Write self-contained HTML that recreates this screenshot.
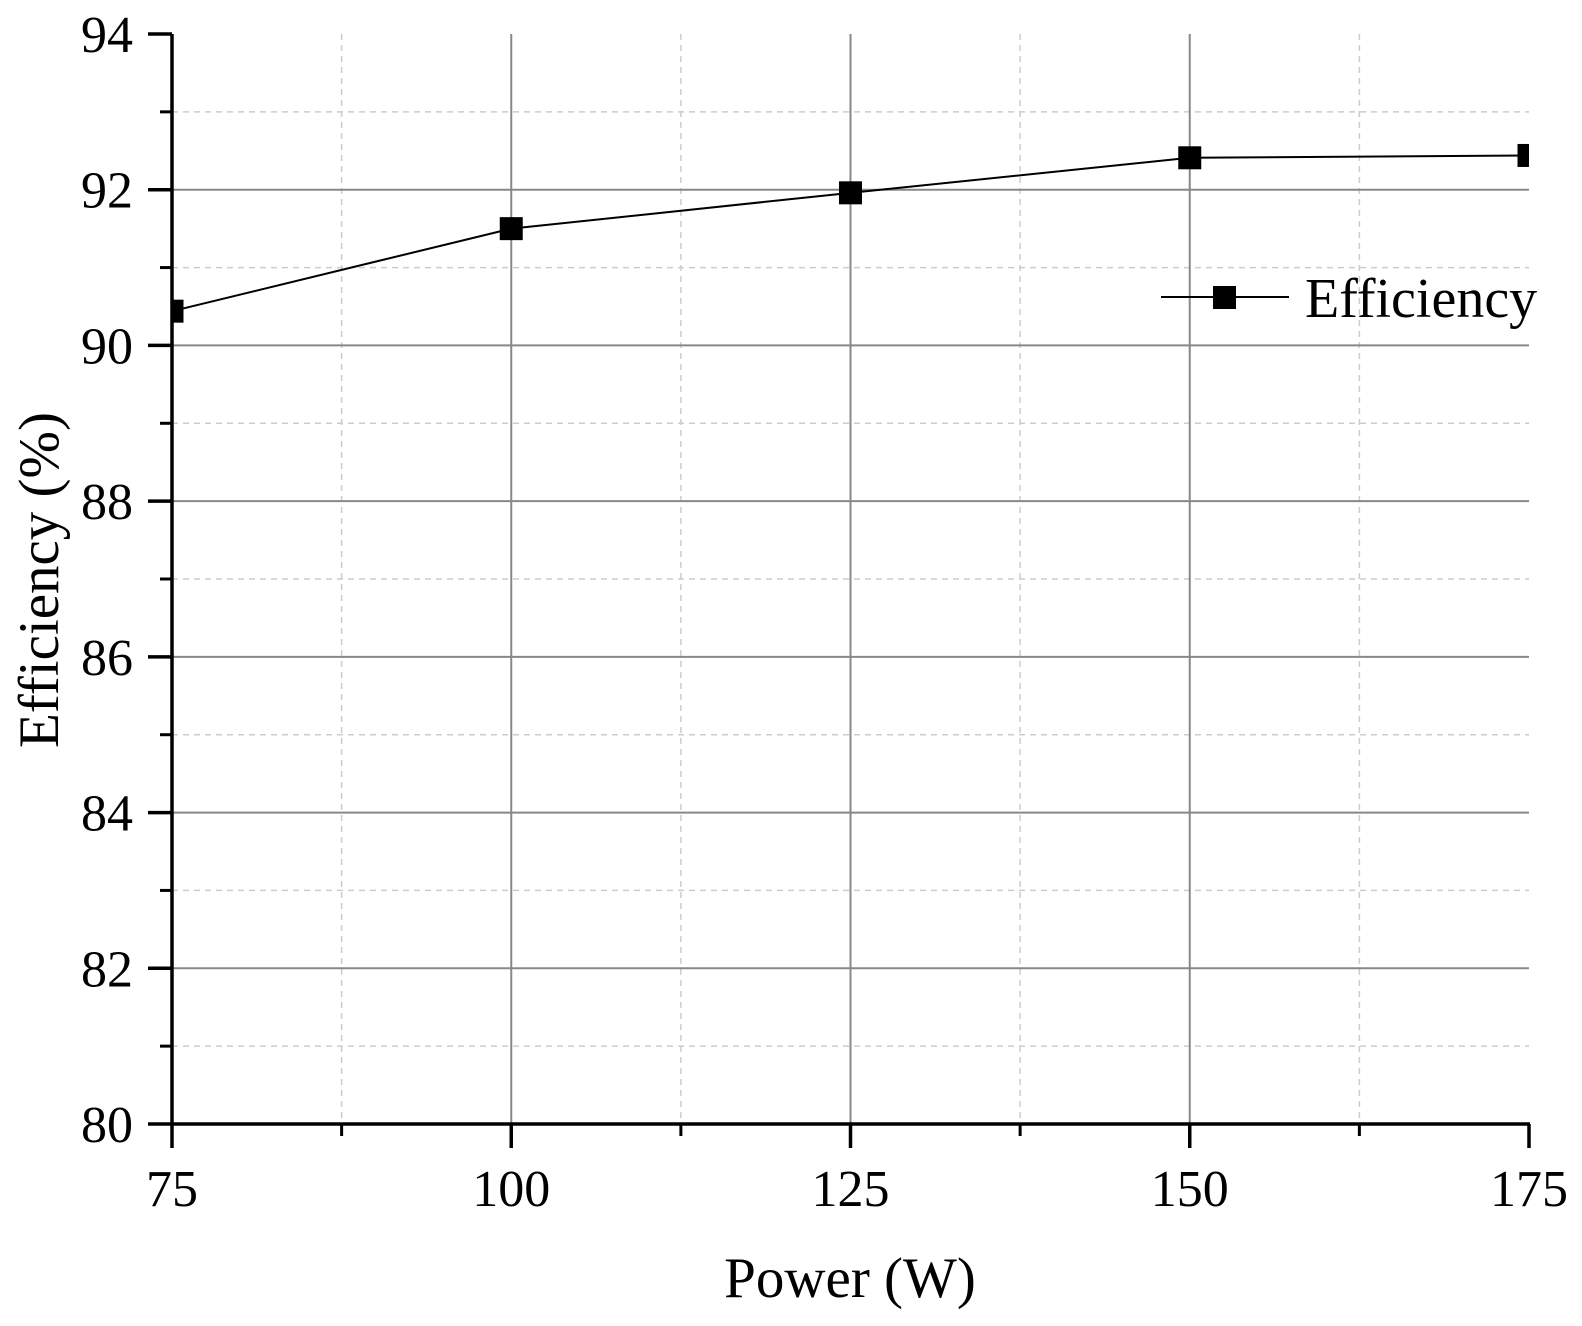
<!DOCTYPE html>
<html><head><meta charset="utf-8"><style>
html,body{margin:0;padding:0;background:#fff;}
svg text{font-family:"Liberation Serif",serif;fill:#000;}
</style></head><body>
<svg id="chart" width="1582" height="1321" xmlns="http://www.w3.org/2000/svg">
<g id="grid"></g>
<g id="series"></g>
<g id="axes"></g>
<text x="850" y="1297" font-size="57" text-anchor="middle">Power (W)</text>
<text transform="translate(58,580) rotate(-90)" font-size="57" text-anchor="middle">Efficiency (%)</text>
<g>
<line x1="1161" y1="297" x2="1289" y2="297" stroke="#000" stroke-width="2"/>
<rect x="1213" y="286" width="23" height="23" fill="#000"/>
<text x="1305" y="317" font-size="56">Efficiency</text>
</g>
</svg>
<script>
const xValues=[75,100,125,150,175];
const efficiency=[90.44,91.50,91.96,92.41,92.44];
const xTicks=[75,100,125,150,175];
const yTicks=[80,82,84,86,88,90,92,94];
const X0=172,X1=1529,Y0=1124,Y1=34;
const xs=v=>X0+(v-75)/(175-75)*(X1-X0);
const ys=v=>Y0-(v-80)/(94-80)*(Y0-Y1);
const NS="http://www.w3.org/2000/svg";
function mk(tag,attrs,parent){const e=document.createElementNS(NS,tag);for(const k in attrs)e.setAttribute(k,attrs[k]);parent.appendChild(e);return e;}
const grid=document.getElementById('grid'),axes=document.getElementById('axes'),ser=document.getElementById('series');
for(let i=0;i<xTicks.length-1;i++){const m=(xTicks[i]+xTicks[i+1])/2;
 const l=mk('line',{x1:xs(m),y1:Y1,x2:xs(m),y2:Y0,stroke:'#ccc','stroke-width':1.5,'stroke-dasharray':'6,5'},grid);
 
 
 const t=mk('line',{x1:xs(m),y1:Y0,x2:xs(m),y2:Y0+12,stroke:'#000','stroke-width':3},axes);
 
 }
for(let i=0;i<yTicks.length-1;i++){const m=(yTicks[i]+yTicks[i+1])/2;
 const l=mk('line',{x1:X0,y1:ys(m),x2:X1,y2:ys(m),stroke:'#ccc','stroke-width':1.5,'stroke-dasharray':'6,5'},grid);
 
 
 const t=mk('line',{x1:X0-12,y1:ys(m),x2:X0,y2:ys(m),stroke:'#000','stroke-width':3},axes);
 
 }
xTicks.forEach((v,i)=>{
 if(i>0&&i<xTicks.length-1){const l=mk('line',{x1:xs(v),y1:Y1,x2:xs(v),y2:Y0,stroke:'#888','stroke-width':2},grid);
 
 }
 const t=mk('line',{x1:xs(v),y1:Y0,x2:xs(v),y2:Y0+24,stroke:'#000','stroke-width':3.5},axes);
 
 
 const tx=mk('text',{x:xs(v),y:1206,'font-size':52,'text-anchor':'middle'},axes);tx.textContent=v;
 
 
});
yTicks.forEach((v,i)=>{
 if(i>0&&i<yTicks.length-1){const l=mk('line',{x1:X0,y1:ys(v),x2:X1,y2:ys(v),stroke:'#888','stroke-width':2},grid);
 
 }
 const t=mk('line',{x1:X0-24,y1:ys(v),x2:X0,y2:ys(v),stroke:'#000','stroke-width':3.5},axes);
 
 
 const tx=mk('text',{x:133,y:ys(v)+18,'font-size':52,'text-anchor':'end'},axes);tx.textContent=v;
 
 
});
const ax=mk('path',{d:`M${X0},${Y1} V${Y0} H${X1+1}`,fill:'none',stroke:'#000','stroke-width':3.5},axes);


const pts=xValues.map((v,i)=>xs(v)+','+ys(efficiency[i])).join(' ');
const pl=mk('polyline',{points:pts,fill:'none',stroke:'#000','stroke-width':2},ser);


const cp=mk('clipPath',{id:'clip'},ser);mk('rect',{x:X0,y:Y1,width:X1-X0,height:Y0-Y1},cp);
xValues.forEach((v,i)=>{const r=mk('rect',{x:xs(v)-11.5,y:ys(efficiency[i])-11.5,width:23,height:23,fill:'#000','clip-path':'url(#clip)'},ser);
 
 });
</script>
</body></html>
